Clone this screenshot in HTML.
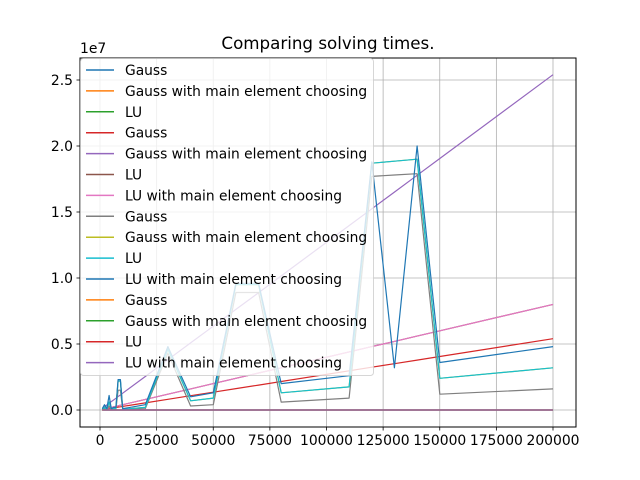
<!DOCTYPE html>
<html><head><meta charset="utf-8"><style>
html,body{margin:0;padding:0;background:#fff;}
svg{display:block;font-family:"DejaVu Sans","Liberation Sans",sans-serif;}
</style></head><body>
<svg id="chart" width="640" height="480" viewBox="0 0 640 480">
<rect x="0" y="0" width="640" height="480" fill="#fff"/>
<text x="328" y="49" font-size="16.7" text-anchor="middle">Comparing solving times.</text>
<text x="80" y="53" font-size="13.9">1e7</text>
<g id="grid"></g>
<g id="series"></g>
<rect x="80" y="58" width="496" height="369" fill="none" stroke="#000" stroke-width="1"/>
<g id="ticks"></g>
<g id="legend"></g>
</svg>
<script>
const xValues = [1000,2000,3000,4000,5000,6000,7000,8000,9000,10000,20000,30000,40000,50000,60000,70000,80000,110000,120000,130000,140000,150000,200000];
const zeroSeries = [0,0,0,0,0,0,0,0,0,0,0,0,0,0,0,0,0,0,0,0,0,0,0];
const redSeries = [0.03,0.05,0.08,0.11,0.14,0.16,0.19,0.22,0.24,0.27,0.54,0.81,1.08,1.35,1.62,1.89,2.16,2.97,3.24,3.51,3.78,4.05,5.4];
const purpleSeries = [0.13,0.25,0.38,0.51,0.64,0.76,0.89,1.02,1.14,1.27,2.54,3.81,5.08,6.35,7.62,8.89,10.16,13.97,15.24,16.51,17.78,19.05,25.4];
const pinkSeries = [0.04,0.08,0.12,0.16,0.2,0.24,0.28,0.32,0.36,0.4,0.8,1.2,1.6,2.0,2.4,2.8,3.2,4.4,4.8,5.2,5.6,6.0,8.0];
const graySeries = [0.03,0.1,0.03,0.3,0.03,0.05,0.05,1.5,1.5,0.03,0.1,4.3,0.3,0.4,8.9,8.9,0.6,0.9,17.7,17.8,17.9,1.2,1.6];
const cyanSeries = [0.05,0.2,0.05,0.6,0.05,0.1,0.1,2.2,2.2,0.05,0.2,4.6,0.7,0.9,9.5,9.5,1.3,1.75,18.7,18.85,19.0,2.4,3.2];
const blueSeries = [0.1,0.4,0.1,1.1,0.1,0.2,0.2,2.3,2.3,0.1,0.4,4.8,1.0,1.3,9.6,9.6,2.0,2.6,18.8,3.2,20.0,3.6,4.8];
const xTicks = [0,25000,50000,75000,100000,125000,150000,175000,200000];
const yTicks = [0,0.5,1.0,1.5,2.0,2.5];
const yTickLabels = ["0.0","0.5","1.0","1.5","2.0","2.5"];
const legendLabels = ["Gauss","Gauss with main element choosing","LU","Gauss","Gauss with main element choosing","LU","LU with main element choosing","Gauss","Gauss with main element choosing","LU","LU with main element choosing","Gauss","Gauss with main element choosing","LU","LU with main element choosing"];
const legendColors = ["#1f77b4","#ff7f0e","#2ca02c","#d62728","#9467bd","#8c564b","#e377c2","#7f7f7f","#bcbd22","#17becf","#1f77b4","#ff7f0e","#2ca02c","#d62728","#9467bd"];

const NS = "http://www.w3.org/2000/svg";
function xs(v){ return 100 + v * (453/200000); }
function ys(v){ return 410 - v * 132; }
function mk(tag, attrs, parent){ const e=document.createElementNS(NS,tag); for(const k in attrs) e.setAttribute(k,attrs[k]); parent.appendChild(e); return e; }

const grid=document.getElementById('grid'), ticks=document.getElementById('ticks');
xTicks.forEach(t=>{
  const gl=mk('line',{x1:xs(t),x2:xs(t),y1:58,y2:427,stroke:'#b0b0b0','stroke-width':0.8},grid);
  
  
  const tk=mk('line',{x1:xs(t),x2:xs(t),y1:427,y2:430.5,stroke:'#000','stroke-width':0.8},ticks);
  
  
  const tl=mk('text',{x:xs(t),y:445,'font-size':13.9,'text-anchor':'middle'},ticks);
  tl.textContent=String(t);
  
  
});
yTicks.forEach((t,i)=>{
  const gl=mk('line',{x1:80,x2:576,y1:ys(t),y2:ys(t),stroke:'#b0b0b0','stroke-width':0.8},grid);
  
  
  const tk=mk('line',{x1:76.5,x2:80,y1:ys(t),y2:ys(t),stroke:'#000','stroke-width':0.8},ticks);
  
  
  const tl=mk('text',{x:73,y:ys(t)+5,'font-size':13.9,'text-anchor':'end'},ticks);
  tl.textContent=yTickLabels[i];
  
  
});

const seriesG=document.getElementById('series');
function drawLine(vals,color,name){
  const pts=vals.map((v,i)=>xs(xValues[i]).toFixed(1)+','+ys(v/10).toFixed(1)).join(' ');
  const p=mk('polyline',{points:pts,fill:'none',stroke:color,'stroke-width':1.2,'stroke-linejoin':'round'},seriesG);
  
  
}
drawLine(zeroSeries,'#ff7f0e','series-gauss-main-1');
drawLine(zeroSeries,'#2ca02c','series-lu-1');
drawLine(redSeries,'#d62728','series-gauss-2');
drawLine(purpleSeries,'#9467bd','series-gauss-main-2');
drawLine(pinkSeries,'#8c564b','series-lu-2');
drawLine(pinkSeries,'#e377c2','series-lu-main-2');
drawLine(graySeries,'#7f7f7f','series-gauss-3');
drawLine(cyanSeries,'#bcbd22','series-gauss-main-3');
drawLine(cyanSeries,'#17becf','series-lu-3');
drawLine(blueSeries,'#1f77b4','series-lu-main-3');
drawLine(zeroSeries,'#ff7f0e','series-gauss-4');
drawLine(zeroSeries,'#2ca02c','series-gauss-main-4');
drawLine(zeroSeries,'#d62728','series-lu-4');
drawLine(zeroSeries,'#9467bd','series-lu-main-4');

const lg=document.getElementById('legend');
const box=mk('rect',{x:80.5,y:58.5,width:293,height:317,rx:3,fill:'#fff','fill-opacity':0.8,stroke:'#ccc','stroke-opacity':0.8},lg);


legendLabels.forEach((lab,i)=>{
  const y=70+i*20.9;
  const ln=mk('line',{x1:86,x2:114,y1:y,y2:y,stroke:legendColors[i],'stroke-width':1.5},lg);
  
  
  const t=mk('text',{x:125,y:y+5,'font-size':13.8},lg);
  t.textContent=lab;
  
  
});
</script>
</body></html>
